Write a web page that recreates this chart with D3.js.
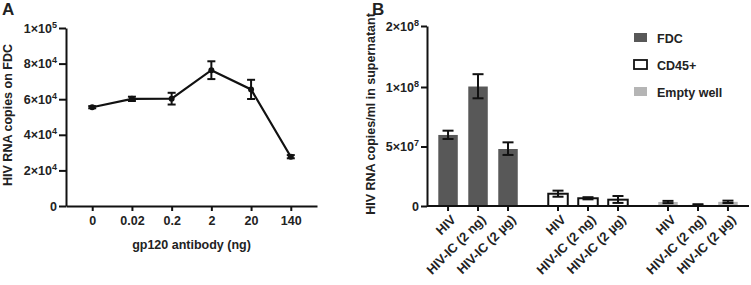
<!DOCTYPE html>
<html>
<head>
<meta charset="utf-8">
<script src="https://cdn.jsdelivr.net/npm/d3@7"></script>
<style>
  body { margin: 0; background: #fff; }
  svg text { font-family: "Liberation Sans", Arial, sans-serif; font-weight: 700; fill: #222; }
  .axis path, .axis line { stroke: #111; stroke-width: 2px; }
  .axis text { font-size: 12.5px; }
</style>
</head>
<body>
<svg id="chart" width="751" height="285"></svg>
<script>
// panel A data
var doses = ["0", "0.02", "0.2", "2", "20", "140"];
var copies_fdc = [55500, 60200, 60300, 76300, 65500, 27700];
var copies_fdc_err = [600, 1200, 3300, 5000, 5400, 900];
var yTicksA = [0, 20000, 40000, 60000, 80000, 100000];

// panel B data
var groups = ["FDC", "CD45+", "Empty well"];
var treatments = ["HIV", "HIV-IC (2 ng)", "HIV-IC (2 \u00b5g)"];
var fdc_vals = [59700, 100800, 47900].map(function(d) { return d * 1000; });
var fdc_lo = [56300, 90500, 42900].map(function(d) { return d * 1000; });
var fdc_hi = [63300, 121000, 53500].map(function(d) { return d * 1000; });
var cd45_vals = [10300, 6500, 5300].map(function(d) { return d * 1000; });
var cd45_lo = [7800, 5600, 2600].map(function(d) { return d * 1000; });
var cd45_hi = [12900, 7400, 8400].map(function(d) { return d * 1000; });
var empty_vals = [3400, 900, 3500].map(function(d) { return d * 1000; });
var empty_lo = [2400, 300, 2500].map(function(d) { return d * 1000; });
var empty_hi = [4300, 1500, 4500].map(function(d) { return d * 1000; });
var yTicksB = [0, 50000000, 100000000, 200000000];

var colors = {"FDC": "#585858", "CD45+": "#ffffff", "Empty well": "#b5b5b5"};

var svg = d3.select("#chart");

// superscript label, e.g. 8×10^4
function sciLabel(sel, d) {
    sel.text(null);
    if (d === 0) { sel.text("0"); return; }
    var e = Math.floor(Math.log10(d) + 1e-9);
    var m = d / Math.pow(10, e);
    sel.append("tspan").text(m + "\u00d710");
    sel.append("tspan").attr("dy", "-5").style("font-size", "9px").text(e);
}

// ---------- Panel A ----------
var mA = {left: 66, top: 28};
var wA = 317 - 66, hA = 206 - 28;
var gA = svg.append("g").attr("transform", "translate(" + mA.left + "," + mA.top + ")");

var xA = d3.scalePoint().domain(doses).range([0, wA]).padding(0.66);
var yA = d3.scaleLinear().domain([0, 100000]).range([hA, 0]);

gA.append("g").attr("class", "axis")
    .attr("transform", "translate(0," + hA + ")")
    .call(d3.axisBottom(xA).tickSize(5).tickSizeOuter(0).tickPadding(5));

gA.append("g").attr("class", "axis")
    .call(d3.axisLeft(yA).tickValues(yTicksA).tickSize(7).tickSizeOuter(0).tickPadding(2))
    .selectAll(".tick text").each(function(d) { sciLabel(d3.select(this), d); });

var ptsA = doses.map(function(d, i) { return {dose: d, v: copies_fdc[i], e: copies_fdc_err[i]}; });

gA.append("path")
    .datum(ptsA)
    .attr("fill", "none")
    .attr("stroke", "#111")
    .attr("stroke-width", 2.2)
    .attr("d", d3.line().x(function(d) { return xA(d.dose); }).y(function(d) { return yA(d.v); }));

var errA = gA.selectAll(".errA").data(ptsA).enter().append("g").attr("class", "errA")
    .attr("stroke", "#111").attr("stroke-width", 2);
errA.append("line")
    .attr("x1", function(d) { return xA(d.dose); }).attr("x2", function(d) { return xA(d.dose); })
    .attr("y1", function(d) { return yA(d.v - d.e); }).attr("y2", function(d) { return yA(d.v + d.e); });
errA.append("line")
    .attr("x1", function(d) { return xA(d.dose) - 4; }).attr("x2", function(d) { return xA(d.dose) + 4; })
    .attr("y1", function(d) { return yA(d.v + d.e); }).attr("y2", function(d) { return yA(d.v + d.e); });
errA.append("line")
    .attr("x1", function(d) { return xA(d.dose) - 4; }).attr("x2", function(d) { return xA(d.dose) + 4; })
    .attr("y1", function(d) { return yA(d.v - d.e); }).attr("y2", function(d) { return yA(d.v - d.e); });

gA.selectAll(".dotA").data(ptsA).enter().append("circle")
    .attr("cx", function(d) { return xA(d.dose); })
    .attr("cy", function(d) { return yA(d.v); })
    .attr("r", 3).attr("fill", "#111");

gA.append("text")
    .attr("x", 191.5 - mA.left).attr("y", hA + 43)
    .attr("text-anchor", "middle").style("font-size", "12.5px")
    .text("gp120 antibody (ng)");

svg.append("text")
    .attr("transform", "translate(12,115) rotate(-90)")
    .attr("text-anchor", "middle").style("font-size", "12.5px")
    .text("HIV RNA copies on FDC");

svg.append("text").attr("x", 2).attr("y", 15).style("font-size", "17px").text("A");

// ---------- Panel B ----------
var mB = {left: 427, top: 26};
var wB = 322, hB = 206 - 26;
var gB = svg.append("g").attr("transform", "translate(" + mB.left + "," + mB.top + ")");

// segmented axis: 0–1e8 takes the lower two thirds
var yB = d3.scaleLinear().domain([0, 100000000, 200000000]).range([hB, 61, 0]);
var x0 = d3.scaleBand().domain(groups).range([0, wB]).paddingInner(0.182).paddingOuter(0.055);
var x1 = d3.scaleBand().domain(treatments).range([0, x0.bandwidth()]).paddingInner(0.35).paddingOuter(0.175);

var series = [
    {g: "FDC", v: fdc_vals, lo: fdc_lo, hi: fdc_hi},
    {g: "CD45+", v: cd45_vals, lo: cd45_lo, hi: cd45_hi},
    {g: "Empty well", v: empty_vals, lo: empty_lo, hi: empty_hi}
];
var barsB = [];
series.forEach(function(s) {
    treatments.forEach(function(t, i) {
        barsB.push({g: s.g, t: t, v: s.v[i], lo: s.lo[i], hi: s.hi[i]});
    });
});

gB.selectAll(".barB").data(barsB).enter().append("rect")
    .attr("class", "barB")
    .attr("x", function(d) { return x0(d.g) + x1(d.t); })
    .attr("width", x1.bandwidth())
    .attr("y", function(d) { return yB(d.v); })
    .attr("height", function(d) { return hB - yB(d.v); })
    .attr("fill", function(d) { return colors[d.g]; })
    .attr("stroke", function(d) { return d.g === "CD45+" ? "#111" : "none"; })
    .attr("stroke-width", 2);

var errB = gB.selectAll(".errB").data(barsB).enter().append("g").attr("class", "errB")
    .attr("stroke", "#111").attr("stroke-width", 2);
function cx(d) { return x0(d.g) + x1(d.t) + x1.bandwidth() / 2; }
errB.append("line")
    .attr("x1", cx).attr("x2", cx)
    .attr("y1", function(d) { return yB(d.lo); }).attr("y2", function(d) { return yB(d.hi); });
errB.append("line")
    .attr("x1", function(d) { return cx(d) - 5.5; }).attr("x2", function(d) { return cx(d) + 5.5; })
    .attr("y1", function(d) { return yB(d.hi); }).attr("y2", function(d) { return yB(d.hi); });
errB.append("line")
    .attr("x1", function(d) { return cx(d) - 5.5; }).attr("x2", function(d) { return cx(d) + 5.5; })
    .attr("y1", function(d) { return yB(d.lo); }).attr("y2", function(d) { return yB(d.lo); });

gB.append("g").attr("class", "axis")
    .call(d3.axisLeft(yB).tickValues(yTicksB).tickSize(6).tickSizeOuter(0).tickPadding(2))
    .selectAll(".tick text").each(function(d) { sciLabel(d3.select(this), d); });

// x axis with grouped ticks
var xAxisB = gB.append("g").attr("class", "axis").attr("transform", "translate(0," + hB + ")");
xAxisB.append("line").attr("x1", 0).attr("x2", wB).attr("y1", 0).attr("y2", 0);
var tickB = xAxisB.selectAll(".tickB").data(barsB).enter().append("g")
    .attr("class", "tickB")
    .attr("transform", function(d) { return "translate(" + cx(d) + ",0)"; });
tickB.append("line").attr("y1", 0).attr("y2", 5);
tickB.append("text")
    .attr("transform", "translate(3,9) rotate(-45)")
    .attr("text-anchor", "end")
    .attr("dy", "0.6em")
    .style("font-size", "13px")
    .text(function(d) { return d.t; });

svg.append("text")
    .attr("transform", "translate(375,114) rotate(-90)")
    .attr("text-anchor", "middle").style("font-size", "12.5px")
    .text("HIV RNA copies/ml in supernatant");

svg.append("text").attr("x", 372).attr("y", 15).style("font-size", "17px").text("B");

// legend
var leg = svg.selectAll(".leg").data(groups).enter().append("g")
    .attr("class", "leg")
    .attr("transform", function(d, i) { return "translate(634," + (33 + i * 27) + ")"; });
leg.append("rect")
    .attr("width", 13).attr("height", 9)
    .attr("fill", function(d) { return colors[d]; })
    .attr("stroke", function(d) { return d === "CD45+" ? "#111" : "none"; })
    .attr("stroke-width", 1.8);
leg.append("text")
    .attr("x", 23).attr("y", 10)
    .style("font-size", "12.5px")
    .text(function(d) { return d; });
</script>
</body>
</html>
